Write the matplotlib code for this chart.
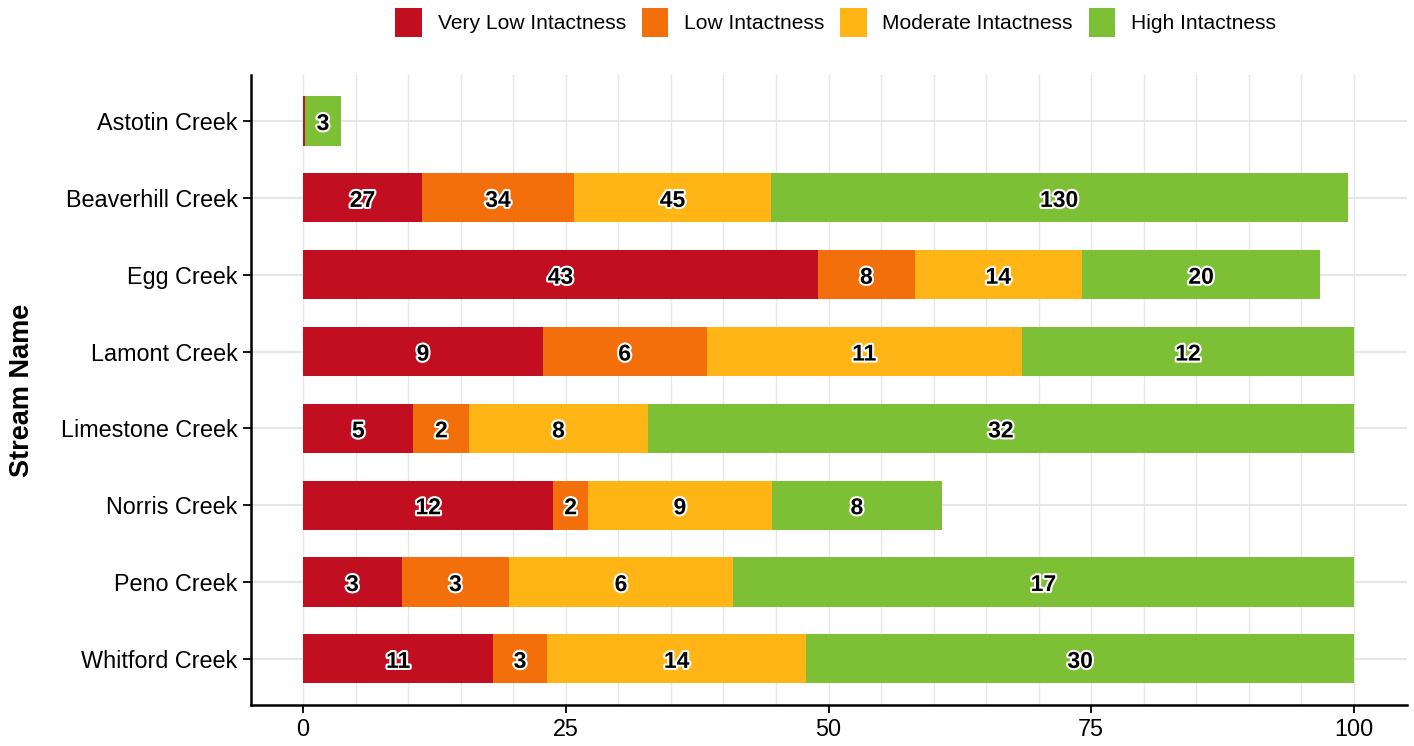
import matplotlib.pyplot as plt
import matplotlib.patheffects as pe
import numpy as np

plt.rcParams['font.family'] = ['Liberation Sans', 'DejaVu Sans']

# stream names (top to bottom)
streams = ['Astotin Creek', 'Beaverhill Creek', 'Egg Creek', 'Lamont Creek',
           'Limestone Creek', 'Norris Creek', 'Peno Creek', 'Whitford Creek']
classes = ['Very Low Intactness', 'Low Intactness', 'Moderate Intactness', 'High Intactness']
colors = ['#C10E21', '#F36F0C', '#FEB515', '#7DBF35']

# segment widths (percent)
very_low = [0.2, 11.3, 49.0, 22.8, 10.5, 23.8, 9.4, 18.1]
low = [0.0, 14.5, 9.2, 15.6, 5.3, 3.3, 10.2, 5.1]
moderate = [0.0, 18.7, 15.9, 30.0, 17.0, 17.5, 21.3, 24.7]
high = [3.4, 54.9, 22.7, 31.6, 67.2, 16.2, 59.1, 52.1]

# counts printed on the segments (None = no label)
n_very_low = [None, 27, 43, 9, 5, 12, 3, 11]
n_low = [None, 34, 8, 6, 2, 2, 3, 3]
n_moderate = [None, 45, 14, 11, 8, 9, 6, 14]
n_high = [3, 130, 20, 12, 32, 8, 17, 30]

widths = [very_low, low, moderate, high]
counts = [n_very_low, n_low, n_moderate, n_high]

fig = plt.figure(figsize=(14.14, 7.46), dpi=100)
ax = fig.add_axes([0.1772, 0.055, 0.8175, 0.8445])

y = np.arange(len(streams))[::-1] + 1
left = np.zeros(len(streams))
for w, c, lab, cnt in zip(widths, colors, classes, counts):
    w = np.array(w)
    ax.barh(y, w, left=left, height=0.64, color=c, label=lab, zorder=2)
    for yi, li, wi, ni in zip(y, left, w, cnt):
        if ni is not None:
            ax.text(li + wi / 2, yi, str(ni), ha='center', va='center_baseline',
                    fontsize=16.5, fontweight='bold', color='black', zorder=3,
                    path_effects=[pe.withStroke(linewidth=3, foreground='white')])
    left = left + w

ax.set_xlim(-5, 105)
ax.set_ylim(0.4, len(streams) + 0.6)
ax.set_xticks([0, 25, 50, 75, 100])
ax.set_xticks(np.arange(0, 101, 5), minor=True)
ax.set_yticks(y)
ax.set_yticklabels(streams)
ax.tick_params(axis='both', labelsize=16.8, colors='black', length=6, width=1.3)
ax.tick_params(axis='x', which='minor', length=0)
ax.grid(True, which='both', axis='x', color='#e6e6e6', linewidth=1, zorder=0)
ax.grid(True, which='major', axis='y', color='#e6e6e6', linewidth=1.5, zorder=0)
ax.set_axisbelow(True)
for s in ['top', 'right']:
    ax.spines[s].set_visible(False)
for s in ['left', 'bottom']:
    ax.spines[s].set_linewidth(1.8)

fig.text(22 / 1414, 0.477, 'Stream Name', rotation=90, ha='center', va='center',
         fontsize=19.5, fontweight='bold')

fig.legend(loc='center', bbox_to_anchor=(0.591, 0.97), ncol=4, frameon=False,
           fontsize=15.1, handlelength=1.27, handleheight=1.7, columnspacing=0.75,
           handletextpad=0.75)

fig.savefig('out.png', dpi=100)
